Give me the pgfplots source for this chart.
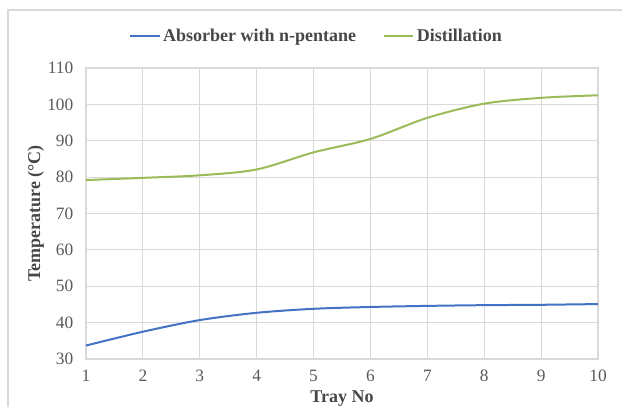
\documentclass[border=0pt]{standalone}
\usepackage{fontspec}
\setmainfont{Liberation Serif}
\usepackage{pgfplots}
\pgfplotsset{compat=1.18}
\definecolor{absblue}{RGB}{68,114,196}
\definecolor{distgreen}{RGB}{155,187,89}
\definecolor{gridgray}{RGB}{217,217,217}
\definecolor{txtgray}{RGB}{89,89,89}

\begin{document}
\begin{tikzpicture}
\path[use as bounding box] (0,0) rectangle (466.5pt,305.25pt);
\draw[gridgray, line width=0.8pt] (6pt,0) -- (6pt,297.75pt) -- (470pt,297.75pt);
\begin{axis}[
    at={(64.5pt,36pt)}, anchor=south west,
    scale only axis,
    width=384pt, height=218.25pt,
    xmin=1, xmax=10, ymin=30, ymax=110,
    xtick={1,...,10}, ytick={30,40,...,110},
    grid=major,
    major grid style={gridgray, line width=0.6pt},
    axis line style={gridgray, line width=0.8pt},
    major tick length=0pt,
    /pgf/number format/assume math mode=true,
    tick label style={font=\fontsize{13}{15}\selectfont, text=txtgray},
    yticklabel style={xshift=-6pt},
    xticklabel style={yshift=-5pt},
    xlabel={\textbf{Tray No}},
    ylabel={\textbf{Temperature (°C)}},
    label style={font=\fontsize{13.5}{15}\selectfont, text=txtgray!80!black},
    xlabel style={at={(axis description cs:0.5,-0.1375)}, anchor=center},
    ylabel style={at={(axis description cs:-0.098,0.5)}, anchor=center, rotate=0},
    legend columns=2,
    legend style={draw=none, fill=none, at={(0.451,1.11)}, anchor=center,
        font=\fontsize{13.5}{15}\selectfont\bfseries, text=txtgray!80!black,
        /tikz/every even column/.append style={column sep=18pt}},
    legend image post style={line width=1.5pt},
    legend image code/.code={\draw[#1] (0pt,0pt) -- (22pt,0pt);},
]
\addplot[absblue, line width=1.5pt, smooth, tension=0.5] coordinates {
(1,33.7) (2,37.5) (3,40.7) (4,42.7) (5,43.8) (6,44.3) (7,44.6) (8,44.8) (9,44.9) (10,45.1)};
\addlegendentry{Absorber with n-pentane}
\addplot[distgreen, line width=1.5pt, smooth, tension=0.5] coordinates {
(1,79.2) (2,79.8) (3,80.5) (4,82.1) (5,86.8) (6,90.5) (7,96.3) (8,100.2) (9,101.8) (10,102.5)};
\addlegendentry{Distillation}
\end{axis}
\end{tikzpicture}
\end{document}
